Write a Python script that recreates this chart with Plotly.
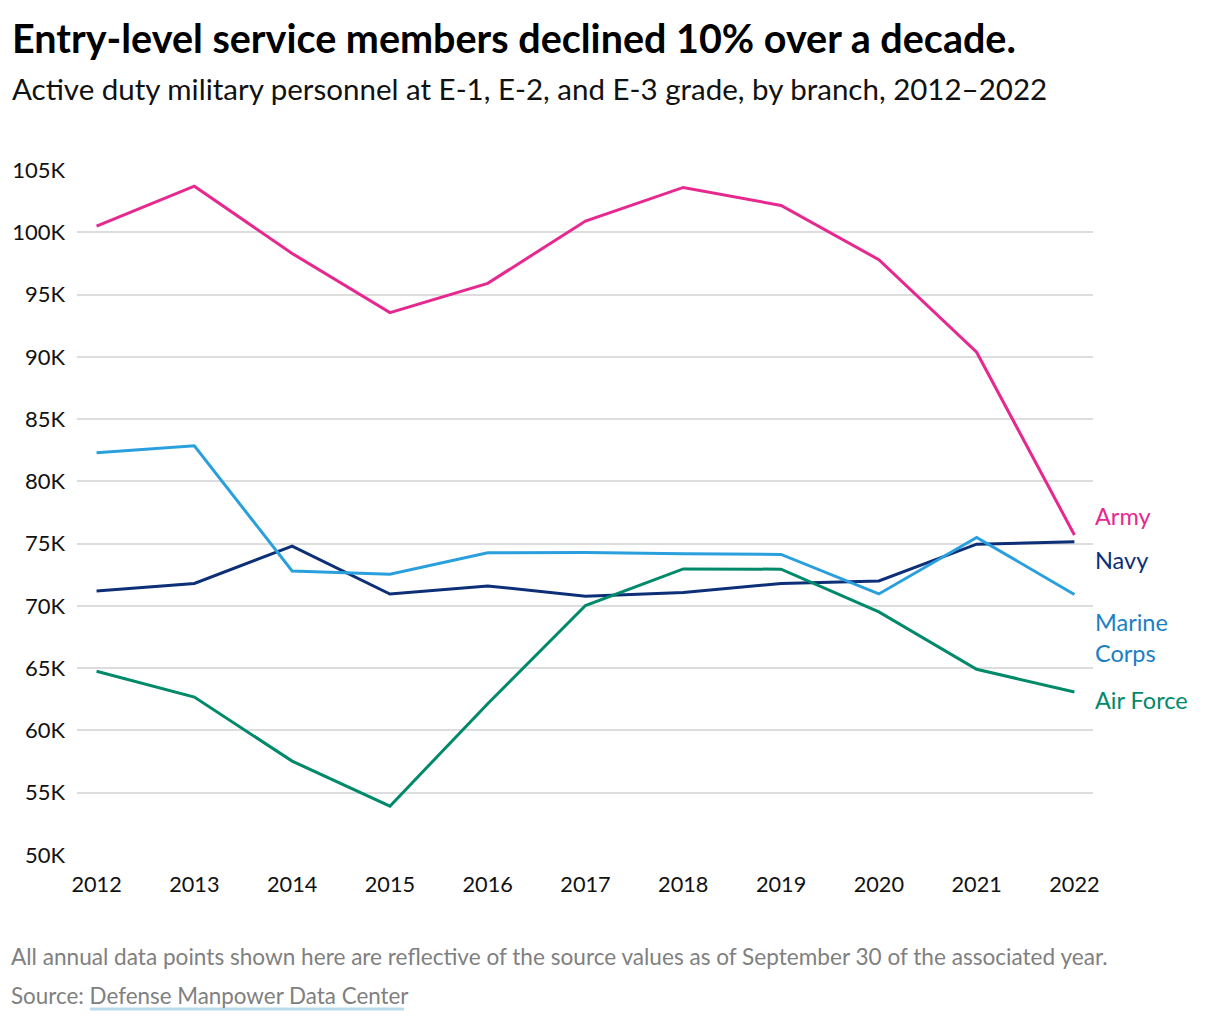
import plotly.graph_objects as go

years = [2012, 2013, 2014, 2015, 2016, 2017, 2018, 2019, 2020, 2021, 2022]
army = [100500, 103700, 98300, 93550, 95900, 100900, 103600, 102150, 97800, 90370, 75700]
navy = [71200, 71800, 74800, 70950, 71600, 70780, 71080, 71800, 72000, 74960, 75150]
marine_corps = [82300, 82860, 72800, 72550, 74260, 74290, 74180, 74130, 70960, 75500, 70920]
air_force = [64750, 62680, 57540, 53920, 62150, 70030, 72970, 72950, 69520, 64910, 63090]

y_ticks = [50000, 55000, 60000, 65000, 70000, 75000, 80000, 85000, 90000, 95000, 100000, 105000]
y_tick_labels = ["50K", "55K", "60K", "65K", "70K", "75K", "80K", "85K", "90K", "95K", "100K", "105K"]

W, H = 1220, 1020
L, R, T, B = 77, 1093, 170, 855
FONT = "Source Sans Pro, Lato, Noto Sans, sans-serif"

def px(x):
    return (x - L) / (R - L)

def py(y):
    return (B - y) / (B - T)

series = [
    ("Army", army, "#e6288f"),
    ("Navy", navy, "#0c2f77"),
    ("Marine Corps", marine_corps, "#2a9fde"),
    ("Air Force", air_force, "#00896a"),
]

fig = go.Figure()
for name, vals, col in series:
    fig.add_trace(go.Scatter(x=years, y=vals, mode="lines", name=name,
                             line=dict(color=col, width=3), showlegend=False))

ann = []
ann.append(dict(text="<b>Entry-level service members declined 10% over a decade.</b>",
                x=px(10), y=py(38), xref="paper", yref="paper", xanchor="left", yanchor="middle",
                showarrow=False, font=dict(size=39.5, color="#000000", family=FONT)))
ann.append(dict(text="Active duty military personnel at E-1, E-2, and E-3 grade, by branch, 2012\u20132022",
                x=px(10), y=py(88), xref="paper", yref="paper", xanchor="left", yanchor="middle",
                showarrow=False, font=dict(size=29.5, color="#111111", family=FONT)))
labels = [("Army", 516, "#e6288f"), ("Navy", 560, "#0c2f77"),
          ("Marine<br>Corps", 637, "#1a80c4"), ("Air Force", 700, "#00896a")]
for t, yy, c in labels:
    ann.append(dict(text=t, x=px(1093), y=py(yy), xref="paper", yref="paper",
                    xanchor="left", yanchor="middle", align="left", showarrow=False,
                    font=dict(size=23.5, color=c, family=FONT)))
ann.append(dict(text="All annual data points shown here are reflective of the source values as of September 30 of the associated year.",
                x=px(9), y=py(956), xref="paper", yref="paper", xanchor="left", yanchor="middle",
                showarrow=False, font=dict(size=22.6, color="#808080", family=FONT)))
ann.append(dict(text="Source: Defense Manpower Data Center",
                x=px(9), y=py(996), xref="paper", yref="paper", xanchor="left", yanchor="middle",
                showarrow=False, font=dict(size=22.4, color="#808080", family=FONT)))

shapes = [dict(type="line", xref="paper", yref="paper", x0=px(90), x1=px(404),
               y0=py(1009), y1=py(1009), line=dict(color="#b9dbea", width=3))]

fig.update_layout(
    width=W, height=H,
    margin=dict(l=L, r=W - R, t=T, b=H - B),
    paper_bgcolor="white", plot_bgcolor="white",
    font=dict(family=FONT, size=20, color="#111111"),
    annotations=ann, shapes=shapes,
    xaxis=dict(range=[2011.8, 2022.19], tickvals=years, ticktext=[str(y) for y in years],
               showgrid=False, zeroline=False, showline=False, ticks="",
               ticklabelstandoff=14,
               tickfont=dict(size=21.7, color="#111111", family=FONT)),
    yaxis=dict(range=[50000, 105000], tickvals=y_ticks, ticktext=y_tick_labels,
               showgrid=True, gridcolor="#dddddd", gridwidth=1.5, zeroline=False, showline=False,
               ticks="", ticklabelstandoff=11,
               tickfont=dict(size=22, color="#111111", family=FONT)),
)

fig.write_html("out.html")
